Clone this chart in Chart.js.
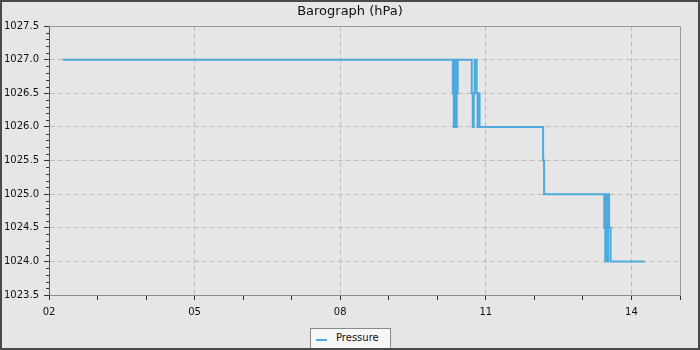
<!DOCTYPE html>
<html>
<head>
<meta charset="utf-8">
<script src="https://cdn.jsdelivr.net/npm/chart.js@4"></script>
<style>
  body { margin: 0; }
  #wrap { position: relative; width: 700px; height: 350px; background: #e6e6e6; }
  #frame { position: absolute; left: 0; top: 0; width: 700px; height: 350px; box-sizing: border-box;
           border: 2px solid #4a4a4a; pointer-events: none; z-index: 3; }
  #legend { position: absolute; left: 310px; top: 328px; width: 79px; height: 22px; background: #f7f7f7;
            border: 1px solid #8a8a8a; font: 10px "DejaVu Sans"; color: #111; z-index: 2; }
  #legend span.swatch { position: absolute; left: 5px; top: 10px; width: 11px; height: 2px; background: #4daadb; }
  #legend span.txt { position: absolute; left: 25px; top: 3px; }
</style>
</head>
<body>
<div id="wrap">
  <canvas id="baro" width="700" height="350"></canvas>
  <div id="legend"><span class="swatch"></span><span class="txt">Pressure</span></div>
  <div id="frame"></div>
</div>
<script>
// relevés du barographe (heure, hPa)
const times = [2.29, 10.32, 10.34, 10.36, 10.38, 10.40, 10.42, 10.71, 10.73, 10.75, 10.77, 10.81, 10.83, 10.85, 10.87,
               12.18, 12.20, 13.44, 13.46, 13.48, 13.50, 13.52, 13.54, 13.57, 14.27];
const pressure = [1027.0, 1026.5, 1026.0, 1027.0, 1026.0, 1026.5, 1027.0, 1026.5, 1026.0, 1026.5, 1027.0, 1026.5, 1026.0, 1026.5, 1026.0,
                  1025.5, 1025.0, 1024.5, 1024.0, 1025.0, 1024.0, 1025.0, 1024.5, 1024.0, 1024.0];
const xLabelValues = [2, 5, 8, 11, 14];
const xTickLabels = ['02', '05', '08', '11', '14'];

const isMajorY = v => Math.abs(v * 2 - Math.round(v * 2)) < 1e-6;
const tickFont = { family: 'DejaVu Sans', size: 10 };

// petits traits secondaires sur l'axe Y + cadre haut/droite
const frameAndMinor = {
    id: 'frameAndMinor',
    afterDraw(chart) {
        const ctx = chart.ctx, a = chart.chartArea, y = chart.scales.y;
        ctx.save();
        ctx.strokeStyle = '#999';
        ctx.lineWidth = 1;
        ctx.beginPath();
        ctx.moveTo(a.left, a.top + 0.5);
        ctx.lineTo(a.right + 0.5, a.top + 0.5);
        ctx.lineTo(a.right + 0.5, a.bottom);
        ctx.stroke();
        ctx.strokeStyle = '#333';
        ctx.beginPath();
        y.ticks.forEach(t => {
            if (isMajorY(t.value)) return;
            const py = Math.round(y.getPixelForValue(t.value)) + 0.5;
            ctx.moveTo(a.left - 3, py);
            ctx.lineTo(a.left, py);
        });
        ctx.stroke();
        ctx.restore();
    }
};

new Chart(document.getElementById('baro'), {
    type: 'line',
    data: {
        datasets: [{
            label: 'Pressure',
            data: times.map((t, i) => ({ x: t, y: pressure[i] })),
            borderColor: '#4daadb',
            borderWidth: 2,
            pointRadius: 0,
            stepped: true,
            fill: false
        }]
    },
    options: {
        responsive: false,
        animation: false,
        devicePixelRatio: 1,
        layout: { padding: 0 },
        plugins: {
            legend: { display: false },
            tooltip: { enabled: false },
            title: {
                display: true,
                text: 'Barograph (hPa)',
                color: '#111',
                font: { family: 'DejaVu Sans', size: 13, weight: 'normal' },
                padding: { top: 4, bottom: 6.4 }
            }
        },
        scales: {
            x: {
                type: 'linear',
                min: 2,
                max: 15,
                afterFit: s => { s.height = 55; },
                ticks: {
                    stepSize: 1,
                    autoSkip: false,
                    maxRotation: 0,
                    padding: 6,
                    color: '#111',
                    font: tickFont,
                    callback: v => {
                        const k = xLabelValues.indexOf(v);
                        return k >= 0 ? xTickLabels[k] : '';
                    }
                },
                grid: {
                    tickLength: 5,
                    tickColor: '#333',
                    color: c => (xLabelValues.includes(c.tick.value) && c.tick.value !== 2) ? '#bdbdbd' : 'rgba(0,0,0,0)'
                },
                border: { color: '#8c8c8c', dash: [5, 3] }
            },
            y: {
                min: 1023.5,
                max: 1027.5,
                afterFit: s => { s.width = 49; },
                ticks: {
                    stepSize: 0.1,
                    autoSkip: false,
                    padding: 5,
                    color: '#111',
                    font: tickFont,
                    callback: v => isMajorY(v) ? v.toFixed(1) : ''
                },
                grid: {
                    tickLength: 5,
                    tickColor: c => isMajorY(c.tick.value) ? '#333' : 'rgba(0,0,0,0)',
                    color: c => (isMajorY(c.tick.value) && c.tick.value > 1023.6 && c.tick.value < 1027.4) ? '#bdbdbd' : 'rgba(0,0,0,0)'
                },
                border: { color: '#555', dash: [5, 3] }
            },
            // marge droite, pour garder le titre centré sur la page
            y2: {
                position: 'right',
                min: 1023.5,
                max: 1027.5,
                afterFit: s => { s.width = 20; },
                ticks: { display: false },
                grid: { display: false },
                border: { display: false }
            }
        }
    },
    plugins: [frameAndMinor]
});
</script>
</body>
</html>
